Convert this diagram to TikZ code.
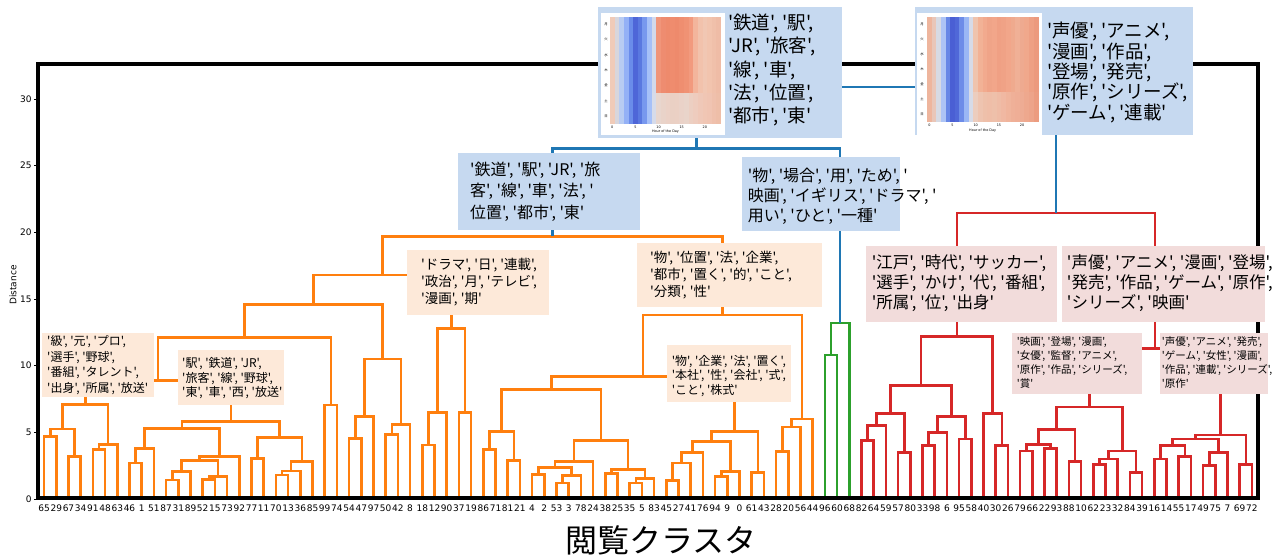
\documentclass[tikz,border=0pt]{standalone}
\usepackage{fontspec}
\usetikzlibrary{calc}
\newfontfamily\jp{Noto Sans CJK JP}[Ligatures=TeXOff]
\newfontfamily\dv{DejaVu Sans}
\definecolor{cOr}{HTML}{FF7F0E}
\definecolor{cGr}{HTML}{2CA02C}
\definecolor{cRd}{HTML}{D62728}
\definecolor{cBl}{HTML}{1F77B4}
\definecolor{bxb}{HTML}{C6D9F0}
\definecolor{bxo}{HTML}{FDE9D9}
\definecolor{bxr}{HTML}{F2DCDB}
\tikzset{
  tree/.style={line width=2.6pt, line join=miter},
  boxfill/.style={anchor=north west, inner sep=0pt},
  boxtext/.style={anchor=west, inner sep=0pt, align=left},
  leaflab/.style={font=\dv\fontsize{9}{10}\selectfont, inner sep=0pt},
  ticklab/.style={font=\dv\fontsize{9}{10}\selectfont, inner sep=0pt, anchor=east},
  tiny/.style={font=\dv\fontsize{3.4}{4}\selectfont, inner sep=0pt},
}
\newcommand\lk[5][]{%
  \draw[tree,#1] (#2) -- (#2 |- 0,#4) -- (#3 |- 0,#4) -- (#3);
  \coordinate (#5) at ($(#2 |- 0,#4)!0.5!(#3 |- 0,#4)$);}
\newcommand\hmap[6]{%
  \foreach \c [count=\i from 0] in {#5}{%
    \edef\tmp{\noexpand\definecolor{hc}{HTML}{\c}}\tmp
    \fill[hc] ({#1+\i*#3},#2) rectangle ({#1+(\i+1)*#3+0.3},{#2+5*#4});}%
  \foreach \c [count=\i from 0] in {#6}{%
    \edef\tmp{\noexpand\definecolor{hc}{HTML}{\c}}\tmp
    \fill[hc] ({#1+\i*#3},{#2+5*#4}) rectangle ({#1+(\i+1)*#3+0.3},{#2+7*#4});}%
}
\begin{document}
\begin{tikzpicture}[x=1pt,y=-1pt]
\useasboundingbox (0,0) rectangle (1274,556);
\fill[white] (0,0) rectangle (1274,556);
% ---------------- dendrogram ----------------
\begin{scope}[shift={(38pt,-499pt)}, x=12.2pt, y=13.333pt]
\foreach \i in {1,...,100} \coordinate (L\i) at (\i-0.5,0);
\foreach \n [count=\i] in {65,29,67,34,91,48,63,46,1,51,87,31,89,52,15,73,92,77,11,70,13,36,85,99,74,54,47,97,50,42,8,18,12,90,37,19,86,71,81,21,4,2,53,3,78,24,38,25,35,5,83,45,27,41,76,94,9,0,61,43,28,20,56,44,96,60,68,82,64,59,57,80,33,98,6,95,58,40,30,26,79,66,22,93,88,10,62,23,32,84,39,16,14,55,17,49,75,7,69,72}
  \node[leaflab] (lab\i) at (\i-0.5,-0.72) {\n};
\foreach \v in {0,5,...,30} {
  \draw[line width=0.8pt] (0,\v) -- (-0.3,\v);
  \node[ticklab] (yt\v) at (-0.5,\v) {\v};
}
% orange
\lk[cOr]{L1}{L2}{4.7}{a1}
\lk[cOr]{L3}{L4}{3.2}{a2}
\lk[cOr]{a1}{a2}{5.25}{a3}
\lk[cOr]{L5}{L6}{3.7}{a4}
\lk[cOr]{a4}{L7}{4.1}{a5}
\lk[cOr]{a3}{a5}{7.1}{A}
\lk[cOr]{L8}{L9}{2.7}{b1}
\lk[cOr]{b1}{L10}{3.8}{b2}
\lk[cOr]{L11}{L12}{1.43}{b3}
\lk[cOr]{b3}{L13}{2.05}{b4}
\lk[cOr]{L14}{L15}{1.45}{b5}
\lk[cOr]{b5}{L16}{1.7}{b6}
\lk[cOr]{b4}{b6}{2.9}{b7}
\lk[cOr]{b7}{L17}{3.2}{b8}
\lk[cOr]{b2}{b8}{5.3}{b9}
\lk[cOr]{L18}{L19}{3.05}{b10}
\lk[cOr]{L20}{L21}{1.8}{b11}
\lk[cOr]{b11}{L22}{2.1}{b12}
\lk[cOr]{b12}{L23}{2.8}{b13}
\lk[cOr]{b10}{b13}{4.6}{b14}
\lk[cOr]{b9}{b14}{5.8}{B}
\lk[cOr]{A}{B}{8.9}{AB}
\lk[cOr]{L24}{L25}{7.05}{c0}
\lk[cOr]{AB}{c0}{12.1}{T1}
\lk[cOr]{L26}{L27}{4.55}{c1}
\lk[cOr]{c1}{L28}{6.2}{c2}
\lk[cOr]{L29}{L30}{4.85}{c3}
\lk[cOr]{c3}{L31}{5.6}{c4}
\lk[cOr]{c2}{c4}{10.5}{C}
\lk[cOr]{T1}{C}{14.6}{X}
\lk[cOr]{L32}{L33}{4.05}{d0}
\lk[cOr]{d0}{L34}{6.5}{d1}
\lk[cOr]{L35}{L36}{6.5}{d2}
\lk[cOr]{d1}{d2}{12.8}{D}
\lk[cOr]{X}{D}{16.8}{TL}
\lk[cOr]{L37}{L38}{3.7}{e1}
\lk[cOr]{L39}{L40}{2.9}{e2}
\lk[cOr]{e1}{e2}{5.05}{E}
\lk[cOr]{L41}{L42}{1.85}{g1}
\lk[cOr]{L43}{L44}{1.2}{g2}
\lk[cOr]{g2}{L45}{1.75}{g3}
\lk[cOr]{g1}{g3}{2.35}{g4}
\lk[cOr]{g4}{L46}{2.8}{G1}
\lk[cOr]{L47}{L48}{1.9}{g5}
\lk[cOr]{L49}{L50}{1.2}{g6}
\lk[cOr]{g6}{L51}{1.55}{g7}
\lk[cOr]{g5}{g7}{2.2}{G2}
\lk[cOr]{G1}{G2}{4.4}{G}
\lk[cOr]{E}{G}{8.2}{EG}
\lk[cOr]{L52}{L53}{1.4}{k1}
\lk[cOr]{k1}{L54}{2.7}{k2}
\lk[cOr]{k2}{L55}{3.5}{k3}
\lk[cOr]{L56}{L57}{1.7}{k4}
\lk[cOr]{k4}{L58}{2.05}{k5}
\lk[cOr]{k3}{k5}{4.3}{k6}
\lk[cOr]{L59}{L60}{2.0}{k7}
\lk[cOr]{k6}{k7}{5.05}{K}
\lk[cOr]{EG}{K}{9.2}{F}
\lk[cOr]{L61}{L62}{3.55}{m1}
\lk[cOr]{m1}{L63}{5.4}{m2}
\lk[cOr]{m2}{L64}{6.0}{M}
\lk[cOr]{F}{M}{13.8}{TR}
\lk[cOr]{TL}{TR}{19.7}{OR}
% green
\lk[cGr]{L65}{L66}{10.8}{n1}
\lk[cGr]{n1}{L67}{13.2}{GR}
% red
\lk[cRd]{L68}{L69}{4.4}{r1}
\lk[cRd]{r1}{L70}{5.5}{r2}
\lk[cRd]{L71}{L72}{3.5}{r3}
\lk[cRd]{r2}{r3}{6.4}{r4}
\lk[cRd]{L73}{L74}{4}{r5}
\lk[cRd]{r5}{L75}{5}{r6}
\lk[cRd]{L76}{L77}{4.5}{r7}
\lk[cRd]{r6}{r7}{6.2}{r8}
\lk[cRd]{r4}{r8}{8.5}{r9}
\lk[cRd]{L79}{L80}{4}{r10}
\lk[cRd]{L78}{r10}{6.4}{r11}
\lk[cRd]{r9}{r11}{12.2}{EDO}
\lk[cRd]{L81}{L82}{3.6}{s1}
\lk[cRd]{L83}{L84}{3.8}{s2}
\lk[cRd]{s1}{s2}{4.1}{s3}
\lk[cRd]{L85}{L86}{2.8}{s4}
\lk[cRd]{s3}{s4}{5.2}{s5}
\lk[cRd]{L87}{L88}{2.6}{s6}
\lk[cRd]{s6}{L89}{3}{s7}
\lk[cRd]{L90}{L91}{2}{s8}
\lk[cRd]{s7}{s8}{3.6}{s9}
\lk[cRd]{s5}{s9}{6.9}{EIGA}
\lk[cRd]{L92}{L93}{3}{t1}
\lk[cRd]{L94}{L95}{3.2}{t2}
\lk[cRd]{t1}{t2}{4}{t3}
\lk[cRd]{L96}{L97}{2.5}{t4}
\lk[cRd]{t4}{L98}{3.5}{t5}
\lk[cRd]{t3}{t5}{4.5}{t6}
\lk[cRd]{L99}{L100}{2.6}{t7}
\lk[cRd]{t6}{t7}{4.8}{SEI}
\lk[cRd]{EIGA}{SEI}{11.3}{SEIYU}
\lk[cRd]{EDO}{SEIYU}{21.45}{RD}
% blue
\lk[cBl]{OR}{GR}{26.3}{BL}
\lk[cBl]{BL}{RD}{30.9}{ROOT}
\end{scope}
% frame
\draw[line width=3.2pt] (38,64) rectangle (1258,498);
\node[font=\dv\fontsize{9}{10}\selectfont, rotate=90, inner sep=0pt] (ylab) at (13,285) {Distance};
\node[font=\jp\fontsize{32}{36}\selectfont, inner sep=0pt] (title) at (661,540) {閲覧クラスタ};
% ---------------- heatmap boxes ----------------
\node[boxfill, fill=bxb, minimum width=244pt, minimum height=131pt] (hm1) at (598,7) {};
\fill[white] (601,12.7) rectangle (725,135);
\hmap{610}{16.7}{4.625}{15.3}{F0CBB8,D8D6DC,B8CCF2,94B1F6,6A8CEA,4E66D8,5A78E0,7898EE,A6C0F8,D2DAEC,F0957A,EE8C70,EE8A6C,EF8C6E,EE8A6C,EF8E70,F09274,F29A7E,F3B59C,F2C2AC,F1C7B3,F2C4AE,F0C0AA,EFBCA6}{F0CBB8,D8D6DC,B8CCF2,94B1F6,6A8CEA,4E66D8,5A78E0,7898EE,A6C0F8,D6DBEA,E8D6CE,E9D3C9,EBD1C6,EAD0C4,EBD0C4,EAD2C8,E9D4CA,ECCFC2,EECCBE,EFC8B8,F0C6B4,F0C4B2,EFC0AC,EEBEA8}
\foreach \d [count=\j from 0] in {月,火,水,木,金,土,日}
  \node[tiny, font=\jp\fontsize{3.4}{4}\selectfont] (hm1d\j) at (606,{16.7+(\j+0.5)*15.3}) {\d};
\foreach \h in {0,5,10,15,20}
  \node[tiny] (hm1h\h) at ({610+(\h+0.5)*4.625},127) {\h};
\node[tiny] (hm1x) at (665.5,132) {Hour of the Day};
\node[boxtext, font=\jp\fontsize{18.5}{23.3}\selectfont] (hm1t) at (728,70)
  {'鉄道', '駅',\\'JR', '旅客',\\'線', '車',\\'法', '位置',\\'都市', '東'};
\node[boxfill, fill=bxb, minimum width=278pt, minimum height=128pt] (hm2) at (915,7) {};
\fill[white] (917,13) rectangle (1042,135);
\hmap{927}{16.7}{4.64}{15}{EEB59D,E9C6B8,D7DAE3,ADC4F5,6787E6,4A5FD4,5068D8,6D8CE8,9AB7F5,D6DBE8,EFC4AE,F2B296,F2AA8E,F0A488,F2A68A,F0A084,F0A286,F2A68A,EFAA8E,F0B096,EEAA90,F0A88C,EEA084,EC9A7E}{EEB59D,E9C6B8,D7DAE3,ADC4F5,6787E6,4A5FD4,5068D8,6D8CE8,9AB7F5,D6DBE8,ECCDBE,EEC4B0,EEC0AA,EFBEA8,EEC0AA,EFBCA6,F0B8A2,F0B49C,EFB098,EFAE96,EEAC94,EEA88E,EDA48A,EC9C80}
\foreach \d [count=\j from 0] in {月,火,水,木,金,土,日}
  \node[tiny, font=\jp\fontsize{3.4}{4}\selectfont] (hm2d\j) at (922,{16.7+(\j+0.5)*15}) {\d};
\foreach \h in {0,5,10,15,20}
  \node[tiny] (hm2h\h) at ({927+(\h+0.5)*4.64},125.5) {\h};
\node[tiny] (hm2x) at (982.7,130.5) {Hour of the Day};
\node[boxtext, font=\jp\fontsize{18.5}{20.4}\selectfont] (hm2t) at (1047,72.5)
  {'声優', 'アニメ',\\'漫画', '作品',\\'登場', '発売',\\'原作', 'シリーズ',\\'ゲーム', '連載'};
% ---------------- blue boxes ----------------
\node[boxfill, fill=bxb, minimum width=182pt, minimum height=77pt] (tetsudo) at (458,153) {};
\node[boxtext, font=\jp\fontsize{16}{21.7}\selectfont] (tetsudoT) at (470,191.7)
  {'鉄道', '駅', 'JR', '旅\\客', '線', '車', '法', '\\位置', '都市', '東'};
\node[boxfill, fill=bxb, minimum width=158pt, minimum height=74pt] (mono) at (742,157) {};
\node[boxtext, font=\jp\fontsize{16}{20}\selectfont] (monoT) at (747.7,196.7)
  {'物', '場合', '用', 'ため', '\\映画', 'イギリス', 'ドラマ', '\\用い', 'ひと', '一種'};
% ---------------- orange boxes ----------------
\node[boxfill, fill=bxo, minimum width=112pt, minimum height=64pt] (kyu) at (42,333) {};
\node[boxtext, font=\jp\fontsize{12}{15.5}\selectfont] (kyuT) at (47,365)
  {'級', '元', 'プロ',\\'選手', '野球',\\'番組', 'タレント',\\'出身', '所属', '放送'};
\node[boxfill, fill=bxo, minimum width=106pt, minimum height=55pt] (eki) at (178,350) {};
\node[boxtext, font=\jp\fontsize{12}{14.5}\selectfont] (ekiT) at (182,378.3)
  {'駅', '鉄道', 'JR',\\'旅客', '線', '野球',\\'東', '車', '西', '放送'};
\node[boxfill, fill=bxo, minimum width=142pt, minimum height=65pt] (dorama) at (407,250) {};
\node[boxtext, font=\jp\fontsize{13.5}{17}\selectfont] (doramaT) at (421,282)
  {'ドラマ', '日', '連載',\\'政治', '月', 'テレビ',\\'漫画', '期'};
\node[boxfill, fill=bxo, minimum width=185pt, minimum height=64pt] (mono2) at (637,243) {};
\node[boxtext, font=\jp\fontsize{13.5}{16.7}\selectfont] (mono2T) at (650,275)
  {'物', '位置', '法', '企業',\\'都市', '置く', '的', 'こと',\\'分類', '性'};
\node[boxfill, fill=bxo, minimum width=124pt, minimum height=57pt] (mono3) at (667,345) {};
\node[boxtext, font=\jp\fontsize{12}{14.2}\selectfont] (mono3T) at (671.7,376)
  {'物', '企業', '法', '置く',\\'本社', '性', '会社', '式',\\'こと', '株式'};
% ---------------- red boxes ----------------
\node[boxfill, fill=bxr, minimum width=191pt, minimum height=76pt] (edo) at (866,246) {};
\node[boxtext, font=\jp\fontsize{16.5}{20}\selectfont] (edoT) at (871.7,283.3)
  {'江戸', '時代', 'サッカー',\\'選手', 'かけ', '代', '番組',\\'所属', '位', '出身'};
\node[boxfill, fill=bxr, minimum width=203pt, minimum height=76pt] (seiyu) at (1062,246) {};
\node[boxtext, font=\jp\fontsize{16.5}{20}\selectfont] (seiyuT) at (1066.7,283.3)
  {'声優', 'アニメ', '漫画', '登場',\\'発売', '作品', 'ゲーム', '原作',\\'シリーズ', '映画'};
\node[boxfill, fill=bxr, minimum width=130pt, minimum height=61pt] (eiga) at (1012,333) {};
\node[boxtext, font=\jp\fontsize{10.5}{13.9}\selectfont] (eigaT) at (1016.7,362.5)
  {'映画', '登場', '漫画',\\'女優', '監督', 'アニメ',\\'原作', '作品', 'シリーズ',\\'賞'};
\node[boxfill, fill=bxr, minimum width=108pt, minimum height=61pt] (seiyu2) at (1160,333) {};
\node[boxtext, font=\jp\fontsize{10.5}{13.9}\selectfont] (seiyu2T) at (1161.7,362.5)
  {'声優', 'アニメ', '発売',\\'ゲーム', '女性', '漫画',\\'作品', '連載', 'シリーズ',\\'原作'};
\end{tikzpicture}
\end{document}
